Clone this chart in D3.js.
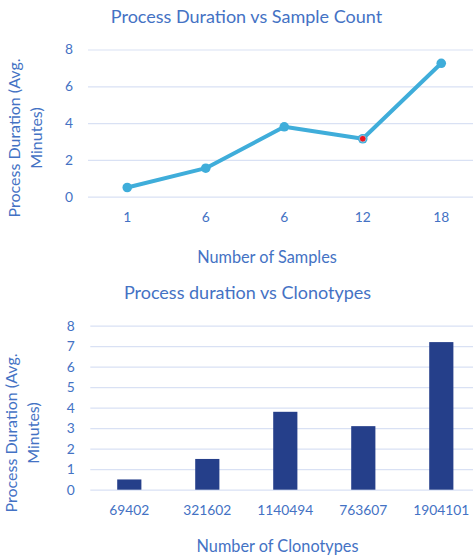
<!DOCTYPE html>
<html>
<head>
<meta charset="utf-8">
<script src="https://cdn.jsdelivr.net/npm/d3@7/dist/d3.min.js"></script>
<style>
  html, body { margin: 0; padding: 0; background: #fff; }
  svg { display: block; }
  text { font-family: Lato, "Open Sans", sans-serif; fill: #4472C4; }
</style>
</head>
<body>
<svg id="chart" width="473" height="557"></svg>
<script>
// Sample-count line chart
const sampleLabels = ["1", "6", "6", "12", "18"];
const lineDurations = [0.5, 1.55, 3.8, 3.15, 7.25];
const lineTicks = [0, 2, 4, 6, 8];
const highlightIndex = 3;

// Clonotype bar chart
const clonotypeLabels = ["69402", "321602", "1140494", "763607", "1904101"];
const barDurations = [0.5, 1.5, 3.8, 3.1, 7.2];
const barTicks = [0, 1, 2, 3, 4, 5, 6, 7, 8];

const textColor = "#4472C4";
const gridColor = "#D9E1F4";
const lineColor = "#3FADDA";
const barColor = "#253F8A";

const svg = d3.select("#chart");

function styleAxis(g) {
  g.select(".domain").remove();
  g.selectAll(".tick line").attr("stroke", gridColor).attr("stroke-width", 1.2);
  g.selectAll(".tick text").attr("fill", textColor).style("font-size", "13.8px")
    .style("font-family", "Lato, 'Open Sans', sans-serif");
}

function yTitle(cx, cy) {
  const t = svg.append("text")
    .attr("transform", `translate(${cx},${cy}) rotate(-90)`)
    .attr("text-anchor", "middle")
    .style("font-size", "16px");
  t.append("tspan").attr("x", 0).attr("dy", 0).text("Process Duration (Avg.");
  t.append("tspan").attr("x", 0).attr("dy", "1.38em").text("Minutes)");
}

// ---------- Line chart ----------
{
  const x = d3.scaleBand().domain(d3.range(sampleLabels.length)).range([88, 480.5]);
  const y = d3.scaleLinear().domain([0, 8]).range([196.7, 49.5]);

  svg.append("g").attr("transform", "translate(88,0)")
    .call(d3.axisLeft(y).tickValues(lineTicks).tickSize(-(480.5 - 88)).tickPadding(15))
    .call(styleAxis);

  svg.append("g").attr("transform", `translate(0,${y(0)})`)
    .call(d3.axisBottom(x).tickSize(0).tickPadding(16).tickFormat(i => sampleLabels[i]))
    .call(styleAxis);

  const cx = i => x(i) + x.bandwidth() / 2;
  svg.append("path")
    .datum(lineDurations)
    .attr("fill", "none")
    .attr("stroke", lineColor)
    .attr("stroke-width", 4)
    .attr("stroke-linejoin", "round")
    .attr("d", d3.line().x((d, i) => cx(i)).y(d => y(d)));

  svg.selectAll(".pt").data(lineDurations).enter().append("circle")
    .attr("cx", (d, i) => cx(i)).attr("cy", d => y(d)).attr("r", 4.8)
    .attr("fill", lineColor);

  svg.append("circle")
    .attr("cx", cx(highlightIndex)).attr("cy", y(lineDurations[highlightIndex]))
    .attr("r", 3.3).attr("fill", "#F0141E").attr("stroke", "#8FD0EC").attr("stroke-width", 0.8);

  svg.append("text").attr("x", 246.5).attr("y", 23).attr("text-anchor", "middle")
    .style("font-size", "18px").text("Process Duration vs Sample Count");
  svg.append("text").attr("x", 267).attr("y", 263).attr("text-anchor", "middle")
    .style("font-size", "16.3px").text("Number of Samples");
  yTitle(20, 138);
}

// ---------- Bar chart ----------
{
  const x = d3.scaleBand().domain(d3.range(clonotypeLabels.length)).range([90.3, 480.3])
    .paddingInner(0.69).paddingOuter(0.345);
  const y = d3.scaleLinear().domain([0, 8]).range([489.7, 325.7]);

  svg.append("g").attr("transform", "translate(90.3,0)")
    .call(d3.axisLeft(y).tickValues(barTicks).tickSize(-(480.3 - 90.3)).tickPadding(15.5))
    .call(styleAxis);

  svg.append("g").attr("transform", `translate(0,${y(0)})`)
    .call(d3.axisBottom(x).tickSize(0).tickPadding(16).tickFormat(i => clonotypeLabels[i]))
    .call(styleAxis);

  svg.selectAll(".bar").data(barDurations).enter().append("rect")
    .attr("x", (d, i) => x(i)).attr("width", x.bandwidth())
    .attr("y", d => y(d)).attr("height", d => y(0) - y(d))
    .attr("fill", barColor);

  svg.append("text").attr("x", 247.5).attr("y", 299).attr("text-anchor", "middle")
    .style("font-size", "18px").text("Process duration vs Clonotypes");
  svg.append("text").attr("x", 277.5).attr("y", 552).attr("text-anchor", "middle")
    .style("font-size", "16.3px").text("Number of Clonotypes");
  yTitle(17, 433);
}
</script>
</body>
</html>
